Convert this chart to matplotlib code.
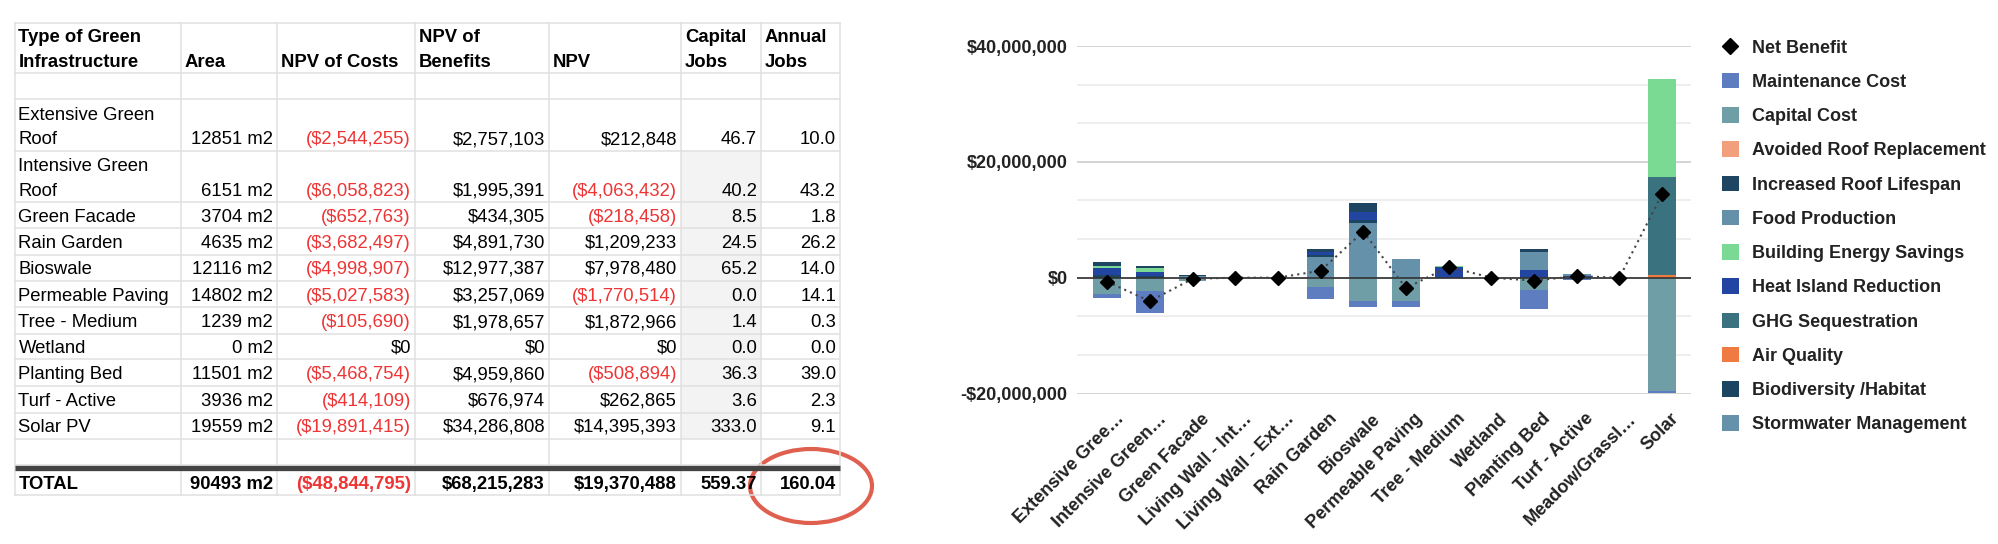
import matplotlib
matplotlib.use('Agg')
import matplotlib.pyplot as plt
import numpy as np
from matplotlib.patches import Rectangle, Ellipse, Patch
from matplotlib.lines import Line2D
from matplotlib.ticker import FuncFormatter, MultipleLocator
from matplotlib.transforms import ScaledTranslation

plt.rcParams['font.family'] = ['Liberation Sans', 'DejaVu Sans']

types = ['Extensive Green\nRoof', 'Intensive Green\nRoof', 'Green Facade', 'Rain Garden',
         'Bioswale', 'Permeable Paving', 'Tree - Medium', 'Wetland', 'Planting Bed',
         'Turf - Active', 'Solar PV']
areas = [12851, 6151, 3704, 4635, 12116, 14802, 1239, 0, 11501, 3936, 19559]
npv_costs = [-2544255, -6058823, -652763, -3682497, -4998907, -5027583, -105690, 0,
             -5468754, -414109, -19891415]
npv_benefits = [2757103, 1995391, 434305, 4891730, 12977387, 3257069, 1978657, 0,
                4959860, 676974, 34286808]
npv = [212848, -4063432, -218458, 1209233, 7978480, -1770514, 1872966, 0, -508894,
       262865, 14395393]
capital_jobs = [46.7, 40.2, 8.5, 24.5, 65.2, 0.0, 1.4, 0.0, 36.3, 3.6, 333.0]
annual_jobs = [10.0, 43.2, 1.8, 26.2, 14.0, 14.1, 0.3, 0.0, 39.0, 2.3, 9.1]
total_area = 90493
total_costs = -48844795
total_benefits = 68215283
total_npv = 19370488
total_capital_jobs = '559.37'
total_annual_jobs = '160.04'
headers = ['Type of Green\nInfrastructure', 'Area', 'NPV of Costs', 'NPV of\nBenefits',
           'NPV', 'Capital\nJobs', 'Annual\nJobs']

# ---- grafico (valores em milhoes de dolares) ----
categories = ['Extensive Gree…', 'Intensive Green…', 'Green Facade', 'Living Wall - Int…',
              'Living Wall - Ext…', 'Rain Garden', 'Bioswale', 'Permeable Paving',
              'Tree - Medium', 'Wetland', 'Planting Bed', 'Turf - Active',
              'Meadow/Grassl…', 'Solar']
maintenance_cost = [-0.65, -3.70, -0.10, 0, 0, -2.05, -1.00, -1.03, -0.03, 0, -3.37, -0.11, 0, -0.39]
capital_cost = [-2.80, -2.35, -0.55, 0, 0, -1.60, -4.00, -4.00, -0.08, 0, -2.10, -0.30, 0, -19.50]
avoided_roof = [0, 0, 0, 0, 0, 0, 0, 0, 0, 0, 0, 0, 0, 0]
roof_lifespan = [0.80, 0.40, 0, 0, 0, 0.52, 1.55, 0, 0, 0, 0.55, 0.10, 0, 0]
food_production = [0, 0, 0, 0, 0, 0, 0, 0, 0, 0, 3.05, 0.20, 0, 0]
energy_savings = [0.20, 0.65, 0, 0, 0, 0, 0, 0, 0.13, 0, 0, 0, 0, 16.99]
heat_island = [1.35, 0.70, 0, 0, 0, 0.46, 1.44, 0, 1.85, 0, 1.15, 0.30, 0, 0]
ghg = [0, 0, 0, 0, 0, 0, 0, 0, 0, 0, 0, 0, 0, 16.85]
air_quality = [0, 0, 0, 0, 0, 0, 0, 0, 0, 0, 0, 0, 0, 0.45]
biodiversity = [0.40, 0.25, 0.08, 0, 0, 0.35, 0.46, 0, 0, 0, 0.20, 0.07, 0, 0]
stormwater = [0, 0, 0.35, 0, 0, 3.57, 9.50, 3.22, 0, 0, 0, 0, 0, 0]
net_benefit = [-0.70, -4.05, -0.20, 0, 0, 1.20, 7.95, -1.80, 1.87, 0, -0.51, 0.26, 0, 14.40]

legend_names = ['Maintenance Cost', 'Capital Cost', 'Avoided Roof Replacement',
                'Increased Roof Lifespan', 'Food Production', 'Building Energy Savings',
                'Heat Island Reduction', 'GHG Sequestration', 'Air Quality',
                'Biodiversity /Habitat', 'Stormwater Management']
colors = {'Maintenance Cost': '#5e7dc1', 'Capital Cost': '#6f9ea7',
          'Avoided Roof Replacement': '#f2a07b', 'Increased Roof Lifespan': '#1e4662',
          'Food Production': '#6490aa', 'Building Energy Savings': '#7ad993',
          'Heat Island Reduction': '#2345a2', 'GHG Sequestration': '#3a737f',
          'Air Quality': '#ef7b43', 'Biodiversity /Habitat': '#1c4561',
          'Stormwater Management': '#6591ab'}
series = {'Maintenance Cost': maintenance_cost, 'Capital Cost': capital_cost,
          'Avoided Roof Replacement': avoided_roof, 'Increased Roof Lifespan': roof_lifespan,
          'Food Production': food_production, 'Building Energy Savings': energy_savings,
          'Heat Island Reduction': heat_island, 'GHG Sequestration': ghg,
          'Air Quality': air_quality, 'Biodiversity /Habitat': biodiversity,
          'Stormwater Management': stormwater}

W, H = 1998, 544
fig = plt.figure(figsize=(W / 100, H / 100), dpi=100)

# ---------------- tabela ----------------
tx = fig.add_axes([0, 0, 1, 1])
tx.set_xlim(0, W)
tx.set_ylim(H, 0)
tx.axis('off')

col_edges = [14.5, 181, 277, 415, 549, 681, 761, 840]
row_edges = [22.7, 73.3, 99.3, 151, 202.3, 228.3, 254.7, 280.7, 307.3, 334, 359.3,
             386, 412.7, 438.7, 465]
total_top, total_bot = 470, 495.3
grid_c = '#e0e0e0'
red = '#ee3434'
fs_t = 13.3

# celulas cinzas da coluna Capital Jobs
tx.add_patch(Rectangle((col_edges[5], row_edges[3]), col_edges[6] - col_edges[5],
                       row_edges[13] - row_edges[3], facecolor='#f3f3f3', edgecolor='none'))
for y in row_edges + [total_bot]:
    tx.plot([col_edges[0], col_edges[-1]], [y, y], color=grid_c, lw=1.1)
for x in col_edges:
    tx.plot([x, x], [row_edges[0], total_bot], color=grid_c, lw=1.1)
tx.plot([col_edges[0], col_edges[-1]], [467.5, 467.5], color='#434343', lw=3.8,
        solid_capstyle='butt')


def cell(col, bottom, s, bold=False, color='black', left=False):
    lines = s.split('\n')
    for i, line in enumerate(lines[::-1]):
        y = bottom - 6.7 - i * 24.5
        if left:
            t = tx.text(col_edges[col] + 4, y, line, ha='left', va='baseline')
        else:
            t = tx.text(col_edges[col + 1] - 4, y, line, ha='right', va='baseline')
        t.set_fontsize(fs_t)
        t.set_color(color)
        if bold:
            t.set_fontweight('bold')
    return t


def money(v):
    if v < 0:
        return f'(${-v:,.0f})'
    return f'${v:,.0f}'


for j, hd in enumerate(headers):
    cell(j, row_edges[1], hd, bold=True, left=True)

for i in range(len(types)):
    b = row_edges[i + 3]
    cell(0, b, types[i], left=True)
    cell(1, b, f'{areas[i]} m2')
    cell(2, b, money(npv_costs[i]), color=red if npv_costs[i] < 0 else 'black')
    cell(3, b, money(npv_benefits[i]))
    cell(4, b, money(npv[i]), color=red if npv[i] < 0 else 'black')
    cell(5, b, f'{capital_jobs[i]:.1f}')
    cell(6, b, f'{annual_jobs[i]:.1f}')

cell(0, total_bot, 'TOTAL', bold=True, left=True)
cell(1, total_bot, f'{total_area} m2', bold=True)
cell(2, total_bot, money(total_costs), bold=True, color=red)
cell(3, total_bot, money(total_benefits), bold=True)
cell(4, total_bot, money(total_npv), bold=True)
t = tx.text(col_edges[6] - 4, total_bot - 6.7, total_capital_jobs, ha='right',
            va='baseline', fontsize=fs_t, fontweight='bold')
t.set_clip_path(Rectangle((col_edges[5], total_top), 69, 30, transform=tx.transData))
cell(6, total_bot, total_annual_jobs, bold=True)

tx.add_patch(Ellipse((811, 486), 122, 74, fill=False, edgecolor='#e0604f', lw=3.0))

# ---------------- grafico ----------------
ax = fig.add_axes([1077.3 / W, 1 - 393.5 / H, (1690.7 - 1077.3) / W, (393.5 - 46) / H])
x = np.arange(len(categories))
bw = 0.65

pos_order = ['Stormwater Management', 'Biodiversity /Habitat', 'Air Quality',
             'GHG Sequestration', 'Heat Island Reduction', 'Building Energy Savings',
             'Food Production', 'Increased Roof Lifespan', 'Avoided Roof Replacement']
neg_order = ['Capital Cost', 'Maintenance Cost']

bottom = np.zeros(len(x))
for name in pos_order:
    vals = np.array(series[name]) * 1e6
    ax.bar(x, vals, bw, bottom=bottom, color=colors[name], zorder=3)
    bottom += vals
bottom = np.zeros(len(x))
for name in neg_order:
    vals = np.array(series[name]) * 1e6
    ax.bar(x, vals, bw, bottom=bottom, color=colors[name], zorder=3)
    bottom += vals

ax.axhline(0, color='#333333', lw=1.2, zorder=4)
ax.plot(x, np.array(net_benefit) * 1e6, color='#444444', lw=1.5, ls=(0, (1, 2)),
        marker='D', ms=6.8, mfc='black', mec='black', zorder=5)

ax.set_xlim(-0.70, 13.67)
ax.set_ylim(-20e6, 40e6)
ax.yaxis.set_major_locator(MultipleLocator(20e6))
ax.yaxis.set_minor_locator(MultipleLocator(20e6 / 3))
ax.yaxis.set_major_formatter(FuncFormatter(lambda v, p: f'-${-v:,.0f}' if v < 0 else f'${v:,.0f}'))
ax.grid(which='minor', axis='y', color='#ebebeb', lw=1.2, zorder=0)
ax.grid(which='major', axis='y', color='#cccccc', lw=1.2, zorder=0)
ax.set_axisbelow(True)
for s in ax.spines.values():
    s.set_visible(False)
ax.tick_params(axis='both', which='both', length=0)
ax.tick_params(axis='y', pad=7, labelsize=13, labelcolor='#222222')
for lbl in ax.get_yticklabels():
    lbl.set_fontweight('bold')

ax.set_xticks(x)
ax.set_xticklabels(categories, rotation=45, ha='right', rotation_mode='anchor',
                   fontsize=13, fontweight='bold', color='#222222')
ax.tick_params(axis='x', pad=12)
off = ScaledTranslation(8 / 100, 0, fig.dpi_scale_trans)
for lbl in ax.get_xticklabels():
    lbl.set_transform(lbl.get_transform() + off)

handles = [Line2D([], [], marker='D', ms=8.5, ls='none', color='black')]
handles += [Patch(facecolor=colors[n], edgecolor='none') for n in legend_names]
labels = ['Net Benefit'] + legend_names
leg = fig.legend(handles, labels, loc='upper left', bbox_to_anchor=(1721.5 / W, 1 - 38.6 / H),
                 frameon=False, fontsize=13, labelspacing=0.9, handlelength=0.95,
                 handleheight=0.95, handletextpad=0.73, borderpad=0, borderaxespad=0)
for t in leg.get_texts():
    t.set_fontweight('bold')
    t.set_color('#222222')

fig.savefig('out.png', dpi=100)
